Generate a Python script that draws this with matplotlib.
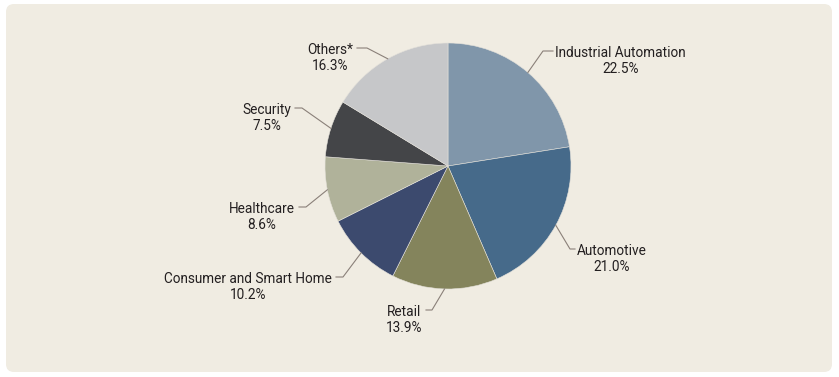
import matplotlib.pyplot as plt
from matplotlib.patches import FancyBboxPatch
import numpy as np

# Data
sectors = ['Industrial Automation', 'Automotive', 'Retail', 'Consumer and Smart Home',
           'Healthcare', 'Security', 'Others*']
shares = [22.5, 21.0, 13.9, 10.2, 8.6, 7.5, 16.3]
colors = ['#8096aa', '#466a8a', '#84845c', '#3c4a6e', '#b0b29a', '#444548', '#c6c7c9']

# Label layout (pixel coords, y from top): elbow point, end of tick, text side
elbows = [(543, 51), (570, 249), (432, 310), (343, 277), (306, 207), (302, 108), (367, 48)]
tick_ends = [553, 575, 426, 336, 299, 295, 357]
sides = ['right', 'right', 'left', 'left', 'left', 'left', 'left']

plt.rcParams['font.family'] = ['Roboto', 'DejaVu Sans']

fig = plt.figure(figsize=(8.39, 3.77), dpi=100, facecolor='white')
ax = fig.add_axes([0, 0, 1, 1])

# Background panel
ax.add_patch(FancyBboxPatch((6, 4), 826, 368, boxstyle='round,pad=0,rounding_size=8',
                            facecolor='#f0ece2', edgecolor='none', zorder=0))

cx, cy, r = 448, 166, 123
wedges, _ = ax.pie(shares, colors=colors, startangle=-90, counterclock=True,
                   center=(cx, cy), radius=r, frame=True,
                   wedgeprops=dict(edgecolor='#e4e1da', linewidth=0.4))
ax.set_xlim(0, 839)
ax.set_ylim(377, 0)
ax.axis('off')

for w, name, val, (ex, ey), tx, side in zip(wedges, sectors, shares, elbows, tick_ends, sides):
    mid = np.deg2rad((w.theta1 + w.theta2) / 2)
    sx, sy = cx + r * np.cos(mid), cy + r * np.sin(mid)
    ax.plot([sx, ex, tx], [sy, ey, ey], color='#8a8079', linewidth=0.8, zorder=3)
    label = f'{name}\n{val:.1f}%'
    if side == 'right':
        ax.text(tx + 2, ey - 5, label, ha='left', va='top', multialignment='center',
                fontsize=9.8, color='#231f20', linespacing=1.2)
    else:
        ax.text(tx - 4, ey - 5, label, ha='right', va='top', multialignment='center',
                fontsize=9.8, color='#231f20', linespacing=1.2)

fig.savefig('out.png', dpi=100, facecolor='white')
